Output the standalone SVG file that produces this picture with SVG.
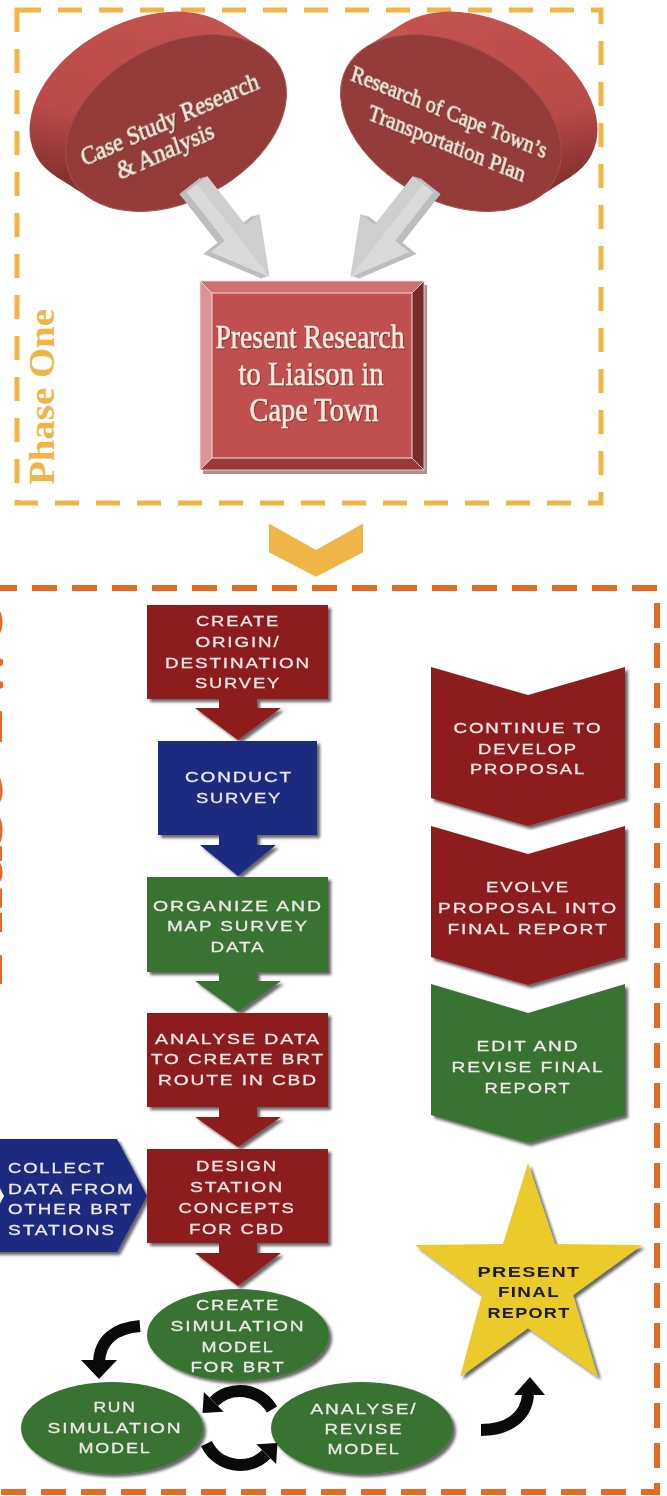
<svg xmlns="http://www.w3.org/2000/svg" width="667" height="1496" viewBox="0 0 667 1496">
  <defs>
    <style>
      .lbl{font-family:"Liberation Sans","DejaVu Sans",Arial,sans-serif;font-size:15px;letter-spacing:1.5px;fill:#EEE8E8;stroke:#EEE8E8;stroke-width:0.3;text-anchor:middle;}
      .lbl.left{text-anchor:start;}
      .starlbl{font-family:"Liberation Sans",Arial,sans-serif;font-size:14px;font-weight:bold;letter-spacing:1px;fill:#1A1A1A;text-anchor:middle;}
      .serif{font-family:"Liberation Serif","DejaVu Serif",serif;fill:#F1ECDF;stroke:#F1ECDF;stroke-width:0.5;text-anchor:middle;}
      .red{fill:#8D1B1A;}
      .blue{fill:#1C2A80;}
      .green{fill:#387331;}
      .conn{fill:none;stroke:#0A0A0A;stroke-width:12;}
      .head{fill:#0A0A0A;}
      .phase1{fill:none;stroke:#F0B547;stroke-width:5;stroke-dasharray:24 17;}
      .phase2{fill:none;stroke:#E46A26;stroke-width:6;stroke-dasharray:25 15;stroke-dashoffset:28;}
    </style>
    <filter id="sh" x="-15%" y="-15%" width="135%" height="135%">
      <feDropShadow dx="3" dy="3" stdDeviation="1.6" flood-color="#000" flood-opacity="0.6"/>
    </filter>
    <filter id="tsh" x="-5%" y="-20%" width="110%" height="140%">
      <feDropShadow dx="0.8" dy="1" stdDeviation="0.5" flood-color="#3a1010" flood-opacity="0.6"/>
    </filter>
    <linearGradient id="discSide" gradientUnits="userSpaceOnUse" x1="210" y1="15" x2="60" y2="190">
      <stop offset="0" stop-color="#C6544F"/>
      <stop offset="0.65" stop-color="#BB4B48"/>
      <stop offset="1" stop-color="#7C2E2C"/>
    </linearGradient>
    <!-- block arrow along +x, used for the grey 3D arrows -->
    <path id="garrow" d="M0 -13 H62 V-31 L118 0 L62 31 V13 H0 Z"/>
    <!-- tilted disc: back face, sweep band, front face -->
    <g id="disc">
      <g fill="url(#discSide)">
        <ellipse cx="0" cy="0" rx="118" ry="78" transform="translate(140,100) rotate(-28)"/>
        <polygon points="260.8,47.1 224.8,24.1 55.2,175.9 91.2,198.9"/>
      </g>
      <ellipse cx="0" cy="0" rx="118" ry="78" transform="translate(176,123) rotate(-28)" fill="#933C3A" stroke="#A5504D" stroke-width="1"/>
    </g>
  </defs>

  <rect x="0" y="0" width="667" height="1496" fill="#FFFFFF"/>

  <!-- phase frames -->
  <g id="phase-one-frame">
    <rect class="phase1" x="17" y="10" width="584" height="493"/>
    <text transform="translate(54,485) rotate(-90)" font-family="'Liberation Serif','DejaVu Serif',serif" font-size="36" font-weight="bold" fill="#EFB547" textLength="176" lengthAdjust="spacingAndGlyphs">Phase One</text>
  </g>
  <g id="phase-two-frame">
    <rect class="phase2" x="-20" y="588" width="677" height="904"/>
    <text transform="translate(1.5,986) rotate(-90)" font-family="'Liberation Serif','DejaVu Serif',serif" font-size="72" font-weight="bold" fill="#E46A26" textLength="385" lengthAdjust="spacingAndGlyphs">Phase Two</text>
  </g>

  <!-- phase one nodes -->
  <g id="case-study">
    <use href="#disc"/>
    <g transform="translate(173.5,131) rotate(-24) skewX(-6)" filter="url(#tsh)">
      <text class="serif" font-size="24" x="0" y="-4" textLength="193" lengthAdjust="spacingAndGlyphs">Case Study Research</text>
      <text class="serif" font-size="24" x="-14" y="23" textLength="105" lengthAdjust="spacingAndGlyphs">&amp; Analysis</text>
    </g>
  </g>
  <g id="transport-plan">
    <use href="#disc" transform="translate(627,0) scale(-1,1)"/>
    <g transform="translate(446,123) rotate(22) skewX(6)" filter="url(#tsh)">
      <text class="serif" font-size="23" x="0" y="-4" textLength="210" lengthAdjust="spacingAndGlyphs">Research of Cape Town’s</text>
      <text class="serif" font-size="23" x="6.6" y="26" textLength="168" lengthAdjust="spacingAndGlyphs">Transportation Plan</text>
    </g>
  </g>
  <g id="present-research">
    <rect x="203" y="285" width="224" height="189" fill="#B39090"/>
    <polygon points="200,281 424,281 412,293 212,293" fill="#CD706E"/>
    <polygon points="200,281 212,293 212,458 200,470" fill="#D99694"/>
    <polygon points="424,281 424,470 412,458 412,293" fill="#772C2B"/>
    <polygon points="200,470 424,470 412,458 212,458" fill="#973B39"/>
    <rect x="212" y="293" width="200" height="165" fill="#C0504D" stroke="#F3DCDA" stroke-width="1"/>
    <rect x="200" y="281" width="224" height="189" fill="none" stroke="#F3E2E1" stroke-width="0.8"/>
    <path d="M200 281 L212 293 M424 281 L412 293 M200 470 L212 458 M424 470 L412 458" stroke="#F3E2E1" stroke-width="0.8"/>
    <g filter="url(#tsh)">
      <text class="serif" font-size="33" x="310" y="348" textLength="189" lengthAdjust="spacingAndGlyphs">Present Research</text>
      <text class="serif" font-size="33" x="311" y="385" textLength="145" lengthAdjust="spacingAndGlyphs">to Liaison in</text>
      <text class="serif" font-size="33" x="314" y="421" textLength="129" lengthAdjust="spacingAndGlyphs">Cape Town</text>
    </g>
  </g>

  <!-- phase two: left column -->
  <g id="create-od-survey" filter="url(#sh)">
    <path class="red" d="M147 605 H328 V699 H257 V708 H281 L238 740 L195 708 H219 V699 H147 Z"/>
    <text class="lbl" x="238" y="625.5" textLength="84" lengthAdjust="spacingAndGlyphs">CREATE</text>
    <text class="lbl" x="238" y="646.5" textLength="85" lengthAdjust="spacingAndGlyphs">ORIGIN/</text>
    <text class="lbl" x="238" y="667.5" textLength="146" lengthAdjust="spacingAndGlyphs">DESTINATION</text>
    <text class="lbl" x="238" y="687.5" textLength="86" lengthAdjust="spacingAndGlyphs">SURVEY</text>
  </g>
  <g id="conduct-survey" filter="url(#sh)">
    <path class="blue" d="M158 741 H317 V835 H257 V845 H276 L238 876 L200 845 H219 V835 H158 Z"/>
    <text class="lbl" x="239" y="781.5" textLength="108" lengthAdjust="spacingAndGlyphs">CONDUCT</text>
    <text class="lbl" x="239" y="802.5" textLength="86" lengthAdjust="spacingAndGlyphs">SURVEY</text>
  </g>
  <g id="organize-data" filter="url(#sh)">
    <path class="green" d="M147 877 H328 V972 H257 V981 H281 L238 1012 L195 981 H219 V972 H147 Z"/>
    <text class="lbl" x="238" y="910.5" textLength="170" lengthAdjust="spacingAndGlyphs">ORGANIZE AND</text>
    <text class="lbl" x="238" y="930.5" textLength="142" lengthAdjust="spacingAndGlyphs">MAP SURVEY</text>
    <text class="lbl" x="238" y="951.5" textLength="55" lengthAdjust="spacingAndGlyphs">DATA</text>
  </g>
  <g id="analyse-route" filter="url(#sh)">
    <path class="red" d="M147 1013 H328 V1107 H257 V1117 H281 L238 1147 L195 1117 H219 V1107 H147 Z"/>
    <text class="lbl" x="238" y="1043.5" textLength="166" lengthAdjust="spacingAndGlyphs">ANALYSE DATA</text>
    <text class="lbl" x="238" y="1063.5" textLength="174" lengthAdjust="spacingAndGlyphs">TO CREATE BRT</text>
    <text class="lbl" x="238" y="1084.5" textLength="160" lengthAdjust="spacingAndGlyphs">ROUTE IN CBD</text>
  </g>
  <g id="collect-data" filter="url(#sh)">
    <polygon class="blue" points="-40,1139 117,1139 147,1196 117,1252 -40,1252 4,1196"/>
    <polygon points="-40,1139 -26,1139 4,1196 -26,1252 -40,1252" fill="#FFFFFF"/>
    <text class="lbl left" x="8" y="1172.5" textLength="98" lengthAdjust="spacingAndGlyphs">COLLECT</text>
    <text class="lbl left" x="8" y="1193.5" textLength="127" lengthAdjust="spacingAndGlyphs">DATA FROM</text>
    <text class="lbl left" x="8" y="1213.5" textLength="125" lengthAdjust="spacingAndGlyphs">OTHER BRT</text>
    <text class="lbl left" x="8" y="1234.5" textLength="108" lengthAdjust="spacingAndGlyphs">STATIONS</text>
  </g>
  <g id="design-stations" filter="url(#sh)">
    <path class="red" d="M147 1149 H328 V1243 H257 V1253 H281 L238 1286 L195 1253 H219 V1243 H147 Z"/>
    <text class="lbl" x="237" y="1170.5" textLength="82" lengthAdjust="spacingAndGlyphs">DESIGN</text>
    <text class="lbl" x="237" y="1192" textLength="94" lengthAdjust="spacingAndGlyphs">STATION</text>
    <text class="lbl" x="237" y="1212.5" textLength="117" lengthAdjust="spacingAndGlyphs">CONCEPTS</text>
    <text class="lbl" x="237" y="1233.5" textLength="96" lengthAdjust="spacingAndGlyphs">FOR CBD</text>
  </g>
  <g id="create-sim-model" filter="url(#sh)">
    <ellipse class="green" cx="238" cy="1335" rx="91" ry="46"/>
    <text class="lbl" x="238" y="1309.5" textLength="84" lengthAdjust="spacingAndGlyphs">CREATE</text>
    <text class="lbl" x="238" y="1331" textLength="135" lengthAdjust="spacingAndGlyphs">SIMULATION</text>
    <text class="lbl" x="238" y="1351.5" textLength="73" lengthAdjust="spacingAndGlyphs">MODEL</text>
    <text class="lbl" x="238" y="1371.5" textLength="95" lengthAdjust="spacingAndGlyphs">FOR BRT</text>
  </g>
  <g id="run-sim-model" filter="url(#sh)">
    <ellipse class="green" cx="112" cy="1428" rx="91" ry="46"/>
    <text class="lbl" x="115" y="1411.5" textLength="43" lengthAdjust="spacingAndGlyphs">RUN</text>
    <text class="lbl" x="115" y="1432.5" textLength="135" lengthAdjust="spacingAndGlyphs">SIMULATION</text>
    <text class="lbl" x="115" y="1452.5" textLength="73" lengthAdjust="spacingAndGlyphs">MODEL</text>
  </g>
  <g id="analyse-revise" filter="url(#sh)">
    <ellipse class="green" cx="362" cy="1428" rx="91" ry="46"/>
    <text class="lbl" x="364" y="1413.5" textLength="107" lengthAdjust="spacingAndGlyphs">ANALYSE/</text>
    <text class="lbl" x="364" y="1433.5" textLength="79" lengthAdjust="spacingAndGlyphs">REVISE</text>
    <text class="lbl" x="364" y="1453.5" textLength="73" lengthAdjust="spacingAndGlyphs">MODEL</text>
  </g>

  <!-- phase two: right column -->
  <g id="continue-proposal" filter="url(#sh)">
    <path class="red" d="M431 667 L528 695 L625 667 V798 L528 826 L431 798 Z"/>
    <text class="lbl" x="528" y="732.5" textLength="149" lengthAdjust="spacingAndGlyphs">CONTINUE TO</text>
    <text class="lbl" x="528" y="753.5" textLength="100" lengthAdjust="spacingAndGlyphs">DEVELOP</text>
    <text class="lbl" x="528" y="773.5" textLength="116" lengthAdjust="spacingAndGlyphs">PROPOSAL</text>
  </g>
  <g id="evolve-proposal" filter="url(#sh)">
    <path class="red" d="M431 826 L528 854 L625 826 V957 L528 985 L431 957 Z"/>
    <text class="lbl" x="528" y="891.5" textLength="84" lengthAdjust="spacingAndGlyphs">EVOLVE</text>
    <text class="lbl" x="528" y="912.5" textLength="180" lengthAdjust="spacingAndGlyphs">PROPOSAL INTO</text>
    <text class="lbl" x="528" y="933.5" textLength="161" lengthAdjust="spacingAndGlyphs">FINAL REPORT</text>
  </g>
  <g id="edit-revise" filter="url(#sh)">
    <path class="green" d="M431 984 L528 1013 L625 984 V1115 L528 1143 L431 1115 Z"/>
    <text class="lbl" x="528" y="1050.5" textLength="103" lengthAdjust="spacingAndGlyphs">EDIT AND</text>
    <text class="lbl" x="528" y="1071.5" textLength="153" lengthAdjust="spacingAndGlyphs">REVISE FINAL</text>
    <text class="lbl" x="528" y="1092.5" textLength="87" lengthAdjust="spacingAndGlyphs">REPORT</text>
  </g>
  <g id="present-final" filter="url(#sh)">
    <polygon points="528,1163 555,1244 642,1245 573,1295 598,1377 528,1328 460,1377 482,1295 415,1245 503,1244" fill="#EACB2C"/>
    <text class="starlbl" x="529" y="1277" textLength="103" lengthAdjust="spacingAndGlyphs">PRESENT</text>
    <text class="starlbl" x="529" y="1297" textLength="62" lengthAdjust="spacingAndGlyphs">FINAL</text>
    <text class="starlbl" x="529" y="1318" textLength="83" lengthAdjust="spacingAndGlyphs">REPORT</text>
  </g>

  <!-- connectors -->
  <g id="connectors">
    <!-- grey 3D arrows into the presentation box -->
    <g id="arrow-left" transform="translate(197,184) rotate(52)">
      <use href="#garrow" fill="#BDBDBD" transform="translate(-1,2.3)"/>
      <use href="#garrow" fill="#BDBDBD" transform="translate(-2,4.6)"/>
      <use href="#garrow" fill="#BDBDBD" transform="translate(-3,7)"/>
      <use href="#garrow" fill="#CFCFCF"/>
      <path d="M0 0 H118 L62 31 V13 H0 Z" fill="#DADADA"/>
    </g>
    <g id="arrow-right" transform="translate(620,0) scale(-1,1)">
      <g transform="translate(197,184) rotate(52)">
        <use href="#garrow" fill="#BDBDBD" transform="translate(-1,2.3)"/>
        <use href="#garrow" fill="#BDBDBD" transform="translate(-2,4.6)"/>
        <use href="#garrow" fill="#BDBDBD" transform="translate(-3,7)"/>
        <use href="#garrow" fill="#CFCFCF"/>
        <path d="M0 0 H118 L62 31 V13 H0 Z" fill="#DADADA"/>
      </g>
    </g>
    <!-- phase transition chevron -->
    <path d="M268 522 L316 549 L364 522 V553 L316 578 L268 553 Z" fill="#EFB547" stroke="#FFFFFF" stroke-width="2" stroke-linejoin="round"/>
    <!-- simulation loop -->
    <path class="conn" d="M140 1326 C115 1328 100 1340 99 1362"/>
    <polygon class="head" points="81,1360 117,1360 99,1379"/>
    <path class="conn" d="M272 1409.5 A37 37 0 0 0 213.8 1401.8"/>
    <polygon class="head" points="223.7,1411.7 203.9,1391.9 202.5,1413"/>
    <path class="conn" d="M206.5 1443.6 A37 37 0 0 0 266.2 1454.2"/>
    <polygon class="head" points="276.1,1464.1 256.3,1444.3 277.5,1442.9"/>
    <path class="conn" d="M481 1430 C510 1430 527 1415 528 1394"/>
    <polygon class="head" points="514,1395 545,1395 530,1377"/>
  </g>
</svg>
